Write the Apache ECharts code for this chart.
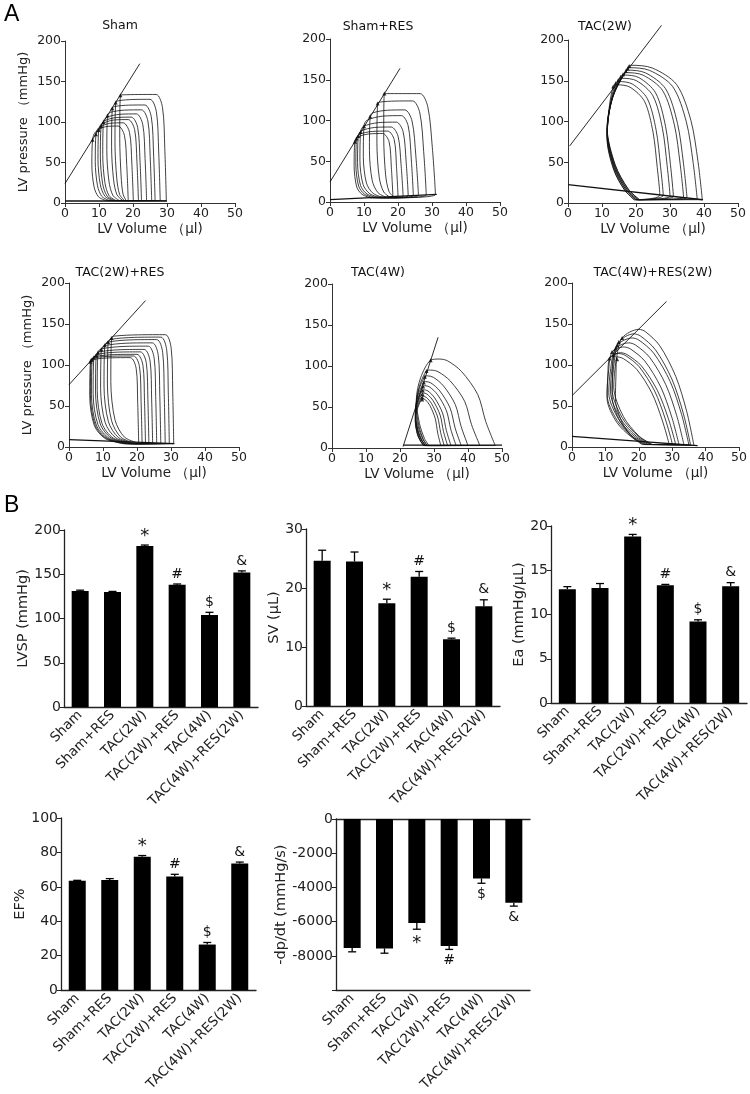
<!DOCTYPE html>
<html><head><meta charset="utf-8">
<script src="https://cdn.jsdelivr.net/npm/echarts@6/dist/echarts.min.js"></script>
<style>html,body{margin:0;padding:0;background:#fff}#c{width:750px;height:1094px}</style>
</head><body><div id="c"></div>
<script>
// ---------- DATA ----------
const groups = ['Sham','Sham+RES','TAC(2W)','TAC(2W)+RES','TAC(4W)','TAC(4W)+RES(2W)'];
const marksUp = ['','','*','#','$','&'];
const marksDp = ['','','*','#','$','&'];

const lvspMean = [131,130,182,138,104,152];
const lvspErr  = [1,0.6,1,1,3,1.8];
const svMean = [24.6,24.5,17.4,21.9,11.3,16.9];
const svErr  = [1.8,1.6,0.7,0.9,0.2,1.1];
const eaMean = [12.85,13.0,18.8,13.3,9.2,13.2];
const eaErr  = [0.3,0.5,0.25,0.1,0.2,0.4];
const efMean = [63.5,64,77.5,66,26.5,73.5];
const efErr  = [0.3,0.8,0.7,1.3,1.2,0.9];
const dpMean = [-7530,-7560,-6070,-7420,-3475,-4900];
const dpErr  = [230,280,370,200,280,190];

const pvTitles = ['Sham','Sham+RES','TAC(2W)','TAC(2W)+RES','TAC(4W)','TAC(4W)+RES(2W)'];

// box-shaped loops: [ESV, ESP, EDV, plateau P, EDP, lean, V at loop bottom]
const shamLoops = [
 [16.3,133,29.8,134,3,1.5,18],[14.9,124,28,128,3,1.5,17.5],[13.9,117,26.5,121,3,1.5,17],
 [12.5,108,25.5,115,3,1.5,16],[11.3,100,24,110,3,1.5,15],[10.6,95,22.5,106,3,1.5,14.5],
 [9.9,90,21.6,103,3,1.5,14],[9.1,85,20.1,99,3,1.5,13],[8.1,78,18.6,95,3,1.5,12]
];
const shamResLoops = [
 [16,133,31,133,9.2,3,19],[14,121,28.3,124,8.6,2.5,18],[11.8,105,26,113,8.2,2.5,17],
 [10,93,24.5,106,7.8,2,16],[9,86,23,98,7.4,2,15],[8.3,81,21.5,92,7,2,14],
 [7.8,78,20,87,6.8,1.5,13],[7.3,74,18.5,84,6.5,1.5,12]
];
const tac2wResLoops = [
 [12.5,133,30.8,137,4,1,21],[11.5,128,29.5,134,4,1,20],[10.5,124,28.3,131,4,1,19.5],
 [9.5,119,27,127,4,1,19],[8.5,115,25.8,123,4,1,18.5],[8,112,24.6,119,4,1,18],
 [7.3,109,23.5,116,4,1,17.5],[6.8,107,22.5,113,4,1,17],[6.5,106,21.5,111,4,1,16.5],
 [6.3,104,20.5,109,4,1,16]
];
// dome-shaped loops: [ESV, ESP, EDV, peak V, peak P, EDP, leftmost V, V at loop bottom]
const tac2wLoops = [
 [18,168,39.5,18.5,169,4.1,11.5,21],[17.5,165,38,18,166,4.8,11.5,21],[17,162,35,17.5,163,6.2,11.5,20.5],
 [16.2,158,34,17,160,6.7,11.5,20.5],[15.5,155,31,16.5,157,8,11.5,20],[14.8,151,30,16,153,8.5,11.5,20],
 [14,147,28,15,149,9.4,11.5,19.5],[13.3,143,27,14.5,145,9.9,11.5,19.5]
];
const tac4wLoops = [
 [29,107,48,31.5,108.5,3,24.8,28.5],[27.8,94,43.5,29,95,3,24.8,28],[27.3,87,40,28,88,3,24.6,28],
 [27,80,38,27.5,81,3,24.5,27.5],[26.8,75,36.5,27.3,76,3,24.5,27.5],[26.7,70,35,27,71,3,24.5,27.5],
 [26.6,66,34,26.9,67,3,24.5,27],[26.5,62,33,26.8,63,3,24.5,27],[26.5,59,32,26.7,60,3,24.5,27]
];
const tac4wResLoops = [
 [15,133,36.5,20,143.5,1.9,12.5,24],[14,128,35.5,18.5,138,2.2,12,24],[13.5,124,35,18,133,2.4,11.5,23.5],
 [13,120,33.5,17,127,2.8,11,23],[12,116,32,15.5,122,3.3,10.5,22.5],[11.2,108,31,14.5,115,3.6,10.5,22],
 [12.5,112,30,14,114,3.9,12,21.5],[13.5,107,29,13.5,110,4.2,13,21]
];
// ESPVR and EDPVR lines (end points, [V, P])
const espvr = [
 [[0,24],[22,172]], [[0,24.6],[20.6,164]], [[0.5,70],[27.5,218]],
 [[0,76],[22.5,178.5]], [[20.9,1.6],[31.2,135]], [[0,62.6],[28.3,177.6]]
];
const edpvr = [
 [[0,2.5],[30,2.5]], [[0,3],[31.4,9.4]], [[0,22.5],[39.7,4]],
 [[0,9],[31,4]], [[21,3.5],[50,3.5]], [[0,13],[37.6,1.6]]
];
const loopBase = [3,5,4,4,3,3];

// ---------- LAYOUT ----------
const FONT = 'DejaVu Sans';
const pvGrids = [
 {left:65, top:41, width:170, height:162},{left:330, top:39, width:170, height:163},{left:568, top:40, width:170, height:163},
 {left:69, top:283, width:170, height:164},{left:332, top:284, width:170, height:164},{left:572, top:283, width:171, height:164}
];
const barGrids = [
 {left:64, top:530, width:194, height:177},{left:306, top:529, width:194, height:177},{left:551, top:526, width:196, height:177},
 {left:61, top:818, width:195, height:177},{left:336, top:819, width:194, height:177}
];
const pvTitlePos = [[120,26],[378,27],[605,27],[120,273],[378,273],[653,273]];
const domeShape = {2:[0.06,0.16,0.36,0.7], 4:[0.17,0.31,0.6,0.85], 5:[0.13,0.33,0.62,0.88]};

function boxLoop(p, base) {
  const [esv, esp, edv, top, edp, lean, botV] = p;
  const cV = edv - lean - 1.5;
  return [
    [botV, base], [edv, edp],
    [edv - 0.3*lean, 0.5*top], [edv - 0.75*lean, 0.88*top],
    [cV, top], [(esv + cV)/2, top - 0.05*(top-esp)],
    [esv + 0.8, esp + 0.55*(top-esp)], [esv, esp],
    [esv - 0.2, 0.6*esp], [esv + 0.12*(botV-esv), 0.25*esp],
    [esv + 0.45*(botV-esv), base + 0.06*esp], [botV, base]
  ];
}
function domeLoop(p, base, f) {
  const [esv, esp, edv, pkV, pkP, edp, leftV, botV] = p;
  const w = edv - pkV;
  const pts = [[botV, base], [edv, edp],
    [edv - f[0]*w, 0.3*pkP], [edv - f[1]*w, 0.6*pkP], [edv - f[2]*w, 0.86*pkP], [edv - f[3]*w, 0.98*pkP],
    [pkV, pkP]];
  if (pkV - esv > 0.4) pts.push([esv, esp]);
  pts.push([leftV + 0.3*(esv-leftV), 0.8*esp], [leftV, 0.55*esp],
    [leftV + 0.25*(botV-leftV), 0.28*esp], [leftV + 0.65*(botV-leftV), 0.08*esp + base], [botV, base]);
  return pts;
}

const grid = [], xAxis = [], yAxis = [], series = [], graphic = [];
const axisLineStyle = {color:'#333', width:1};

pvGrids.forEach((g, i) => {
  grid.push(Object.assign({containLabel:false}, g));
  xAxis.push({type:'value', gridIndex:i, min:0, max:50, interval:10,
    axisLine:{show:true, onZero:false, lineStyle:axisLineStyle}, axisTick:{show:true, length:4, lineStyle:axisLineStyle},
    axisLabel:{fontFamily:FONT, fontSize:12.5, color:'#222', margin:4}, splitLine:{show:false},
    name:'LV Volume （μl)', nameLocation:'middle', nameGap:19,
    nameTextStyle:{fontFamily:FONT, fontSize:13.5, color:'#222'}});
  yAxis.push({type:'value', gridIndex:i, min:0, max:200, interval:50,
    axisLine:{show:true, onZero:false, lineStyle:axisLineStyle}, axisTick:{show:true, length:4, lineStyle:axisLineStyle},
    axisLabel:{fontFamily:FONT, fontSize:12.5, color:'#222', margin:4}, splitLine:{show:false},
    name:(i===0||i===3)?'LV pressure （mmHg)':'', nameLocation:'middle', nameGap:35,
    nameTextStyle:{fontFamily:FONT, fontSize:13, color:'#222'}});
  graphic.push({type:'text', x:pvTitlePos[i][0], y:pvTitlePos[i][1],
    style:{text:pvTitles[i], align:'center', verticalAlign:'middle', fontFamily:FONT, fontSize:12.5, fill:'#111'}});
});

const allLoops = [shamLoops, shamResLoops, tac2wLoops, tac2wResLoops, tac4wLoops, tac4wResLoops];
allLoops.forEach((loops, i) => {
  loops.forEach(p => {
    const pts = domeShape[i] ? domeLoop(p, loopBase[i], domeShape[i]) : boxLoop(p, loopBase[i]);
    series.push({type:'line', xAxisIndex:i, yAxisIndex:i, data:pts, smooth:0.3, symbol:'none', silent:true,
      lineStyle:{color:'#111', width:0.8}, clip:false});
  });
  series.push({type:'scatter', xAxisIndex:i, yAxisIndex:i, symbol:'triangle', symbolSize:4, silent:true,
    itemStyle:{color:'#000'}, data: loops.map(p => [p[0], p[1]])});
  series.push({type:'line', xAxisIndex:i, yAxisIndex:i, data:espvr[i], symbol:'none', silent:true, clip:false,
    lineStyle:{color:'#111', width:0.9}});
  series.push({type:'line', xAxisIndex:i, yAxisIndex:i, data:edpvr[i], symbol:'none', silent:true, clip:false,
    lineStyle:{color:'#111', width:1.3}});
});

// ---------- BAR PANELS ----------
const barDefs = [
  {mean:lvspMean, err:lvspErr, marks:marksUp, min:0, max:200, interval:50, name:'LVSP (mmHg)', gap:31},
  {mean:svMean, err:svErr, marks:marksUp, min:0, max:30, interval:10, name:'SV (μL)', gap:20},
  {mean:eaMean, err:eaErr, marks:marksUp, min:0, max:20, interval:5, name:'Ea (mmHg/μL)', gap:17},
  {mean:efMean, err:efErr, marks:marksUp, min:0, max:100, interval:20, name:'EF%', gap:21},
  {mean:dpMean, err:dpErr, marks:marksDp, min:-10000, max:0, interval:2000, name:'-dp/dt (mmHg/s)', gap:44}
];
barDefs.forEach((d, k) => {
  const gi = pvGrids.length + k;
  grid.push(barGrids[k]);
  const xi = xAxis.length;
  xAxis.push({type:'category', gridIndex:gi, data:groups, position:'bottom',
    axisLine:{show:true, onZero:false, lineStyle:{color:'#222', width:1.3}}, axisTick:{show:false},
    axisLabel:{rotate:45, interval:0, fontFamily:FONT, fontSize:13.5, color:'#222', margin:6}});
  if (d.min < 0) {
    xAxis.push({type:'category', gridIndex:gi, data:groups, position:'top',
      axisLine:{show:true, onZero:false, lineStyle:{color:'#222', width:1.3}}, axisTick:{show:false}, axisLabel:{show:false}});
  }
  const yi = yAxis.length;
  yAxis.push({type:'value', gridIndex:gi, min:d.min, max:d.max, interval:d.interval,
    axisLine:{show:true, onZero:false, lineStyle:{color:'#222', width:1.3}}, axisTick:{show:true, length:4, lineStyle:{color:'#222'}},
    axisLabel:{fontFamily:FONT, fontSize:14, color:'#222', margin:3, formatter: v => v === -10000 ? '' : String(v)},
    splitLine:{show:false}, name:d.name, nameLocation:'middle', nameGap:d.gap,
    nameTextStyle:{fontFamily:FONT, fontSize:14.5, color:'#222'}});
  series.push({type:'bar', xAxisIndex:xi, yAxisIndex:yi, data:d.mean, barWidth:17, silent:true,
    itemStyle:{color:'#000'}});
  series.push({type:'custom', xAxisIndex:xi, yAxisIndex:yi, silent:true, z:5,
    data:d.mean.map((m, i) => [i, m, d.err[i]]),
    renderItem:(params, api) => {
      const i = api.value(0), m = api.value(1), e = api.value(2);
      const neg = m < 0;
      const end = api.coord([i, neg ? m - e : m + e]);
      const base = api.coord([i, m]);
      const ch = [
        {type:'line', shape:{x1:end[0], y1:base[1], x2:end[0], y2:end[1]}, style:{stroke:'#000', lineWidth:1.3}},
        {type:'line', shape:{x1:end[0]-4, y1:end[1], x2:end[0]+4, y2:end[1]}, style:{stroke:'#000', lineWidth:1.3}}
      ];
      const mk = d.marks[params.dataIndex];
      if (mk) {
        const star = mk === '*';
        ch.push({type:'text', x:end[0], y: neg ? end[1] + (star ? 5 : 4) : end[1] - (star ? 0 : 3),
          style:{text:mk, align:'center', verticalAlign: neg ? 'top' : 'bottom',
            fontFamily:FONT, fontSize: star ? 18 : 14, fill:'#111'}});
      }
      return {type:'group', children:ch};
    }});
});

graphic.push({type:'text', x:4, y:3, style:{text:'A', fontFamily:'Liberation Sans', fontSize:23, fill:'#000'}});
graphic.push({type:'text', x:4, y:494, style:{text:'B', fontFamily:'Liberation Sans', fontSize:23, fill:'#000'}});

const chart = echarts.init(document.getElementById('c'), null, {renderer:'canvas'});
chart.setOption({animation:false, backgroundColor:'#fff', grid, xAxis, yAxis, series, graphic});
</script></body></html>
